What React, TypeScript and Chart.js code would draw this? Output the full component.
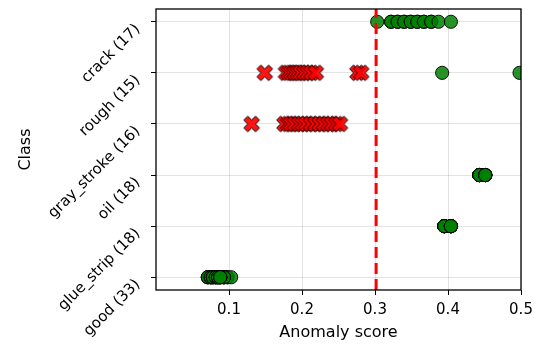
import { useEffect, useRef } from 'react';
import { Chart, registerables } from 'chart.js';
Chart.register(...registerables);

const classes = ['good (33)', 'glue_strip (18)', 'oil (18)', 'gray_stroke (16)', 'rough (15)', 'crack (17)'];
const xTickValues = [0.1, 0.2, 0.3, 0.4, 0.5];
const threshold = 0.3015;

// correctly handled samples (green circles), per class
const goodCorrect = [0.071, 0.071, 0.071, 0.075, 0.075, 0.075, 0.075, 0.078, 0.078, 0.078, 0.078, 0.082, 0.082, 0.082, 0.082, 0.082, 0.098, 0.098, 0.103, 0.093, 0.093, 0.093, 0.093, 0.085, 0.085, 0.085, 0.085, 0.085, 0.088, 0.088, 0.088, 0.088, 0.088];
const glueCorrect = [0.395, 0.395, 0.395, 0.395, 0.395, 0.395, 0.395, 0.395, 0.395, 0.404, 0.404, 0.404, 0.404, 0.404, 0.404, 0.404, 0.404, 0.404];
const oilCorrect = [0.443, 0.443, 0.443, 0.443, 0.443, 0.443, 0.443, 0.443, 0.443, 0.451, 0.451, 0.451, 0.451, 0.451, 0.451, 0.451, 0.451, 0.451];
const grayCorrect: number[] = [];
const roughCorrect = [0.392, 0.498];
const crackCorrect = [0.303, 0.322, 0.322, 0.331, 0.331, 0.34, 0.34, 0.349, 0.349, 0.358, 0.358, 0.367, 0.367, 0.377, 0.377, 0.387, 0.404];

// missed samples (red X), per class
const goodMissed: number[] = [];
const glueMissed: number[] = [];
const oilMissed: number[] = [];
const grayMissed = [0.131, 0.176, 0.181, 0.185, 0.19, 0.196, 0.201, 0.206, 0.212, 0.218, 0.224, 0.23, 0.236, 0.241, 0.247, 0.252];
const roughMissed = [0.149, 0.178, 0.182, 0.186, 0.19, 0.194, 0.198, 0.203, 0.208, 0.213, 0.219, 0.276, 0.281];
const crackMissed: number[] = [];

const correctByClass = [goodCorrect, glueCorrect, oilCorrect, grayCorrect, roughCorrect, crackCorrect];
const missedByClass = [goodMissed, glueMissed, oilMissed, grayMissed, roughMissed, crackMissed];

const FONT = 'DejaVu Sans';

function makeXMarker(): HTMLCanvasElement {
  const S = 19;
  const c = document.createElement('canvas');
  c.width = S;
  c.height = S;
  const g = c.getContext('2d')!;
  const m = 16.5;
  const pts = [[-1, -3], [1, -3], [1, -1], [3, -1], [3, 1], [1, 1], [1, 3], [-1, 3], [-1, 1], [-3, 1], [-3, -1], [-1, -1]];
  const a = Math.PI / 4;
  g.beginPath();
  pts.forEach(([px, py], i) => {
    const x = (px * Math.cos(a) - py * Math.sin(a)) / 6 * m + S / 2;
    const y = (px * Math.sin(a) + py * Math.cos(a)) / 6 * m + S / 2;
    if (i === 0) g.moveTo(x, y); else g.lineTo(x, y);
  });
  g.closePath();
  g.fillStyle = 'rgba(255,0,0,0.92)';
  g.fill();
  g.lineWidth = 1;
  g.strokeStyle = '#000';
  g.stroke();
  return c;
}

const frame = {
  id: 'frame',
  afterDraw(chart: any) {
    const { ctx, chartArea } = chart;
    ctx.save();
    ctx.strokeStyle = '#000';
    ctx.lineWidth = 1.3;
    ctx.strokeRect(chartArea.left, chartArea.top, chartArea.right - chartArea.left, chartArea.bottom - chartArea.top);
    ctx.restore();
  },
};

export default function App() {
  const ref = useRef<HTMLCanvasElement>(null);
  useEffect(() => {
    const correct: { x: number; y: number }[] = [];
    const missed: { x: number; y: number }[] = [];
    correctByClass.forEach((arr, i) => arr.forEach((v) => correct.push({ x: v, y: i })));
    missedByClass.forEach((arr, i) => arr.forEach((v) => missed.push({ x: v, y: i })));
    const chart = new Chart(ref.current!, {
      type: 'scatter',
      data: {
        datasets: [
          {
            data: [{ x: threshold, y: -0.25 }, { x: threshold, y: classes.length - 0.75 }],
            showLine: true,
            borderColor: '#ff0000',
            borderWidth: 3,
            borderDash: [11, 5],
            pointRadius: 0,
          } as any,
          {
            data: missed,
            pointStyle: makeXMarker(),
            pointRadius: 8,
          },
          {
            data: correct,
            pointStyle: 'circle',
            pointRadius: 6.6,
            backgroundColor: 'rgba(0,128,0,0.85)',
            borderColor: 'rgba(0,0,0,0.9)',
            borderWidth: 1,
          },
        ],
      },
      options: {
        animation: false,
        responsive: false,
        devicePixelRatio: 1,
        layout: { padding: { top: 8, right: 13, left: 0, bottom: 0 } },
        plugins: { legend: { display: false }, tooltip: { enabled: false } },
        scales: {
          x: {
            type: 'linear',
            min: 0,
            max: 0.5,
            afterBuildTicks: (s: any) => { s.ticks = xTickValues.map((v) => ({ value: v })); },
            afterFit: (s: any) => { s.height = 62; s.paddingLeft = 0; s.paddingRight = 0; },
            ticks: {
              color: '#000',
              font: { family: FONT, size: 15 },
              padding: 6,
              callback: (v: any) => Number(v).toFixed(1),
            },
            grid: { color: 'rgba(0,0,0,0.11)', tickColor: '#000', tickLength: 5, lineWidth: 1 },
            border: { display: false },
            title: { display: true, text: 'Anomaly score', color: '#000', font: { family: FONT, size: 16 }, padding: { top: 0, bottom: 10 } },
          },
          y: {
            type: 'linear',
            min: -0.25,
            max: classes.length - 0.75,
            afterBuildTicks: (s: any) => { s.ticks = classes.map((_, i) => ({ value: i })); },
            afterFit: (s: any) => { s.width = 156; s.paddingTop = 0; s.paddingBottom = 0; },
            ticks: {
              color: '#000',
              font: { family: FONT, size: 15 },
              padding: 13,
              labelOffset: 5,
              minRotation: 45,
              maxRotation: 45,
              callback: (v: any) => classes[Math.round(Number(v))] ?? '',
            },
            grid: { color: 'rgba(0,0,0,0.11)', tickColor: '#000', tickLength: 5, lineWidth: 1 },
            border: { display: false },
            title: { display: true, text: 'Class', color: '#000', font: { family: FONT, size: 16 }, padding: { top: 16, bottom: 0 } },
          },
        },
      },
      plugins: [frame],
    });
    return () => chart.destroy();
  }, []);
  return (
    <div style={{ position: 'fixed', left: 0, top: 0, width: 534, height: 352, background: '#fff' }}>
      <canvas ref={ref} width={534} height={352} style={{ display: 'block' }} />
    </div>
  );
}
